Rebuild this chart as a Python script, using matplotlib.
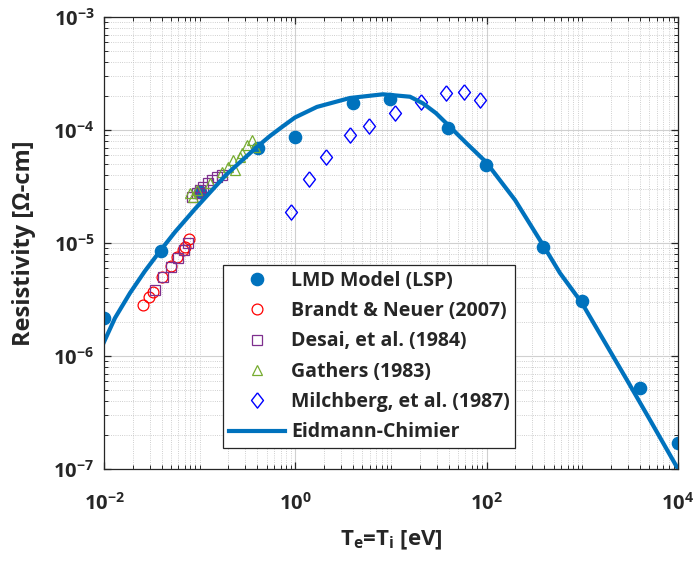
import matplotlib
matplotlib.use('Agg')
import matplotlib.pyplot as plt
from matplotlib.ticker import LogLocator, NullFormatter, FuncFormatter, FixedLocator
import numpy as np

plt.rcParams['font.family'] = ['Open Sans', 'DejaVu Sans']
plt.rcParams['font.weight'] = 'bold'
plt.rcParams['mathtext.fontset'] = 'custom'
plt.rcParams['mathtext.rm'] = 'Open Sans:bold'
plt.rcParams['mathtext.it'] = 'Open Sans:bold'
plt.rcParams['mathtext.bf'] = 'Open Sans:bold'
plt.rcParams['mathtext.sf'] = 'Open Sans:bold'
plt.rcParams['mathtext.default'] = 'bf'

# LMD Model (LSP)
lmd_T = [0.01, 0.0395, 0.1, 0.404, 1.0, 3.98, 9.85, 39.7, 99.0, 391, 1000, 4000, 10000]
lmd_rho = [2.17e-6, 8.5e-6, 2.83e-5, 6.9e-5, 8.67e-5, 1.72e-4, 1.87e-4, 1.05e-4,
           4.93e-5, 9.16e-6, 3.07e-6, 5.18e-7, 1.71e-7]

# Brandt & Neuer (2007)
bn_T = [0.0258, 0.0298, 0.0323, 0.0401, 0.0498, 0.0575, 0.0665, 0.0708, 0.0780]
bn_rho = [2.81e-6, 3.30e-6, 3.71e-6, 4.97e-6, 6.25e-6, 7.46e-6, 8.67e-6, 9.27e-6, 1.08e-5]

# Desai, et al. (1984)
de_T = [0.0341, 0.0411, 0.0501, 0.0598, 0.0686, 0.0760,
        0.0826, 0.0931, 0.1007, 0.109, 0.123, 0.134, 0.151, 0.170]
de_rho = [3.84e-6, 4.97e-6, 6.10e-6, 7.32e-6, 8.67e-6, 9.93e-6,
          2.57e-5, 2.75e-5, 2.94e-5, 3.15e-5, 3.38e-5, 3.61e-5, 3.86e-5, 4.0e-5]

# Gathers (1983)
ga_T = [0.0793, 0.0857, 0.0937, 0.128, 0.170, 0.199, 0.234, 0.225, 0.264, 0.275,
        0.310, 0.350, 0.378]
ga_rho = [2.75e-5, 2.57e-5, 2.94e-5, 3.38e-5, 4.28e-5, 4.73e-5, 4.43e-5, 5.43e-5,
          5.81e-5, 6.22e-5, 7.36e-5, 8.16e-5, 7.11e-5]

# Milchberg, et al. (1987)
mi_T = [0.90, 1.40, 2.11, 3.73, 5.89, 11.0, 20.4, 37.3, 57.9, 84.5]
mi_rho = [1.87e-5, 3.71e-5, 5.73e-5, 9.03e-5, 1.09e-4, 1.41e-4, 1.76e-4, 2.14e-4,
          2.16e-4, 1.83e-4]

# Eidmann-Chimier curve
ec_T = [0.01, 0.01303, 0.0187, 0.0268, 0.0385, 0.0552, 0.0893, 0.188, 0.397, 0.543,
        0.743, 0.991, 1.68, 3.72, 8.24, 15.8, 21.6, 29.5, 39.4, 60.8, 98.4,
        198, 388, 583, 991, 1528, 2924, 5093, 10000]
ec_rho = [1.33e-6, 2.17e-6, 3.61e-6, 5.65e-6, 8.49e-6, 1.25e-5, 2.0e-5, 4.0e-5,
          7.08e-5, 8.85e-5, 1.08e-4, 1.29e-4, 1.60e-4, 1.92e-4, 2.07e-4, 1.97e-4,
          1.72e-4, 1.41e-4, 1.11e-4, 7.71e-5, 5.21e-5, 2.40e-5, 9.6e-6, 5.43e-6,
          2.94e-6, 1.57e-6, 6.14e-7, 2.72e-7, 1.0e-7]

# labelled decades
x_ticks = [1e-2, 1e0, 1e2, 1e4]
y_ticks = [1e-7, 1e-6, 1e-5, 1e-4, 1e-3]

blue = '#0072BD'
dark = '#262626'

diamond = [(0, 1), (0.78, 0), (0, -1), (-0.78, 0), (0, 1)]

fig = plt.figure(figsize=(6.97, 5.67), dpi=100)
ax = fig.add_axes([104/697, 1-469/567, 574/697, 452/567])

ax.plot(lmd_T, lmd_rho, 'o', color=blue, ms=8.8, label='LMD Model (LSP)')
ax.plot(bn_T, bn_rho, 'o', mfc='none', mec='red', ms=7.8, mew=0.9, label='Brandt & Neuer (2007)')
ax.plot(de_T, de_rho, 's', mfc='none', mec='#7E2F8E', ms=6.5, mew=0.9, label='Desai, et al. (1984)')
ax.plot(ga_T, ga_rho, '^', mfc='none', mec='#77AC30', ms=7.5, mew=0.9, label='Gathers (1983)')
ax.plot(mi_T, mi_rho, marker=diamond, ls='none', mfc='none', mec='blue', ms=11, mew=1.0,
        label='Milchberg, et al. (1987)')
ax.plot(ec_T, ec_rho, '-', color=blue, lw=3, label='Eidmann-Chimier')

ax.set_xscale('log')
ax.set_yscale('log')
ax.set_xlim(1e-2, 1e4)
ax.set_ylim(1e-7, 1e-3)

fmt = FuncFormatter(lambda v, p: r'$\mathbf{10^{%d}}$' % int(round(np.log10(v))))
ax.xaxis.set_major_locator(FixedLocator(x_ticks))
ax.xaxis.set_major_formatter(fmt)
ax.xaxis.set_minor_locator(LogLocator(base=10, subs=range(1, 10), numticks=20))
ax.xaxis.set_minor_formatter(NullFormatter())
ax.yaxis.set_major_locator(FixedLocator(y_ticks))
ax.yaxis.set_major_formatter(fmt)
ax.yaxis.set_minor_locator(LogLocator(base=10, subs=range(2, 10), numticks=20))
ax.yaxis.set_minor_formatter(NullFormatter())

ax.grid(True, which='major', color='#d0d0d0', lw=0.8, ls='-')
ax.grid(True, which='minor', color='#c0c0c0', lw=0.6, ls=':')
ax.set_axisbelow(True)

ax.tick_params(which='both', direction='in', top=True, right=True, colors=dark,
               labelsize=14.5)
ax.tick_params(which='major', length=5, width=0.9)
ax.tick_params(which='minor', length=3, width=0.7)
ax.tick_params(axis='x', pad=17)
ax.tick_params(axis='y', pad=7)
for s in ax.spines.values():
    s.set_color(dark)
    s.set_linewidth(0.9)

ax.set_xlabel(r'T$_\mathbf{e}$=T$_\mathbf{i}$ [eV]', fontsize=16, fontweight='bold',
              color=dark, labelpad=10)
ax.set_ylabel('Resistivity [Ω-cm]', fontsize=17, fontweight='bold', color=dark)
ax.yaxis.set_label_coords(-0.118, 0.5)

leg = ax.legend(loc='lower left', bbox_to_anchor=(0.207, 0.046), borderaxespad=0,
                fontsize=14, fancybox=False, framealpha=1, edgecolor=dark,
                handlelength=2.9, handletextpad=0.3, labelspacing=0.53,
                borderpad=0.3)
leg.get_frame().set_linewidth(0.9)
for t in leg.get_texts():
    t.set_color(dark)
    t.set_fontweight('bold')

fig.savefig('out.png', dpi=100)
